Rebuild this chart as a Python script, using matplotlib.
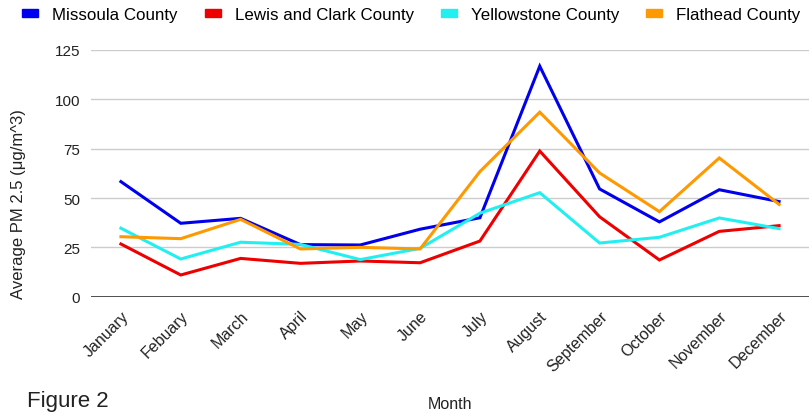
import matplotlib
matplotlib.use("Agg")
import matplotlib.pyplot as plt
from matplotlib.patches import Patch

plt.rcParams['font.family'] = ['Liberation Sans', 'DejaVu Sans']

months = ["January", "Febuary", "March", "April", "May", "June", "July",
          "August", "September", "October", "November", "December"]

missoula = [58.3, 37.2, 39.7, 26.4, 26.2, 34.2, 40.0, 116.8, 54.6, 37.9, 54.2, 48.2]
lewis_clark = [26.7, 11.0, 19.4, 16.9, 18.1, 17.2, 28.2, 73.8, 40.5, 18.6, 33.1, 36.0]
yellowstone = [34.7, 19.1, 27.6, 26.5, 18.8, 24.5, 42.3, 52.7, 27.2, 30.1, 39.9, 34.5]
flathead = [30.4, 29.4, 39.2, 24.2, 25.0, 24.2, 63.4, 93.5, 62.7, 43.1, 70.3, 46.8]

series = [
    ("Missoula County", missoula, "#0000ee"),
    ("Lewis and Clark County", lewis_clark, "#ee0000"),
    ("Yellowstone County", yellowstone, "#22f0f0"),
    ("Flathead County", flathead, "#ff9900"),
]

fig = plt.figure(figsize=(8.09, 4.14), dpi=100)
ax = fig.add_axes([91 / 809, 1 - 297.7 / 414, 718 / 809, (297.7 - 51) / 414])

x = list(range(len(months)))
for name, vals, col in series:
    ax.plot(x, vals, color=col, lw=2.2, solid_joinstyle="miter", zorder=3)

ax.set_xlim(-0.5, 11.5)
ax.set_ylim(0, 125)
ax.set_yticks([0, 25, 50, 75, 100, 125])
ax.set_xticks(x)
ax.set_xticklabels(months, rotation=45, ha="right", va="top", rotation_mode="anchor")
ax.tick_params(length=0, colors="#222222")
ax.tick_params(axis="y", pad=8, labelsize=11)
ax.tick_params(axis="x", pad=8, labelsize=11.5)
ax.grid(axis="y", color="#cccccc", lw=1)
for s in ax.spines.values():
    s.set_visible(False)
ax.axhline(0, color="#333333", lw=1.2, zorder=2)

# y axis title sits a bit below the middle of the plot
fig.text(19 / 809, 1 - 204 / 414, "Average PM 2.5 (μg/m^3)", rotation=90,
         ha="center", va="center", fontsize=12, color="#222222")

handles = [Patch(color=c, label=n) for n, _, c in series]
fig.legend(handles=handles, loc="center left", bbox_to_anchor=(22 / 809, 1 - 15.5 / 414), ncol=4,
           frameon=False, fontsize=12.2, handlelength=0.94, handleheight=0.3,
           handletextpad=0.83, columnspacing=1.6, borderpad=0, borderaxespad=0)

fig.text(450 / 809, 1 - 405 / 414, "Month", ha="center", va="center", fontsize=11.5, color="#222222")
fig.text(27 / 809, 1 - 402 / 414, "Figure 2", ha="left", va="center", fontsize=16, color="#222222")

fig.savefig("out.png", dpi=100)
